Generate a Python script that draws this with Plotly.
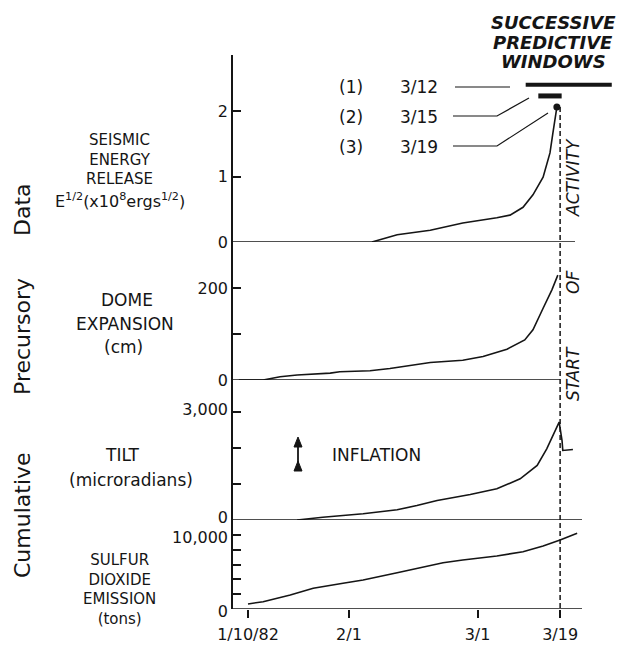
import plotly.graph_objects as go
from datetime import datetime, timedelta

# ---------------- data ----------------
seis_dates = ["1982-02-06", "1982-02-08 00:00", "1982-02-11 12:00", "1982-02-18 17:00",
              "1982-02-25 19:00", "1982-03-05 05:00", "1982-03-08 02:00", "1982-03-10 22:00",
              "1982-03-13 02:00", "1982-03-15 07:00", "1982-03-16 19:00", "1982-03-17 10:00",
              "1982-03-18 02:00", "1982-03-18 07:00"]
seis_vals = [0, 0.04, 0.11, 0.18, 0.29, 0.37, 0.41, 0.53, 0.72, 0.99, 1.36, 1.66, 2.02, 2.06]

dome_dates = ["1982-01-08", "1982-01-13 07:00", "1982-01-17", "1982-01-20 17:00", "1982-01-27 22:00",
              "1982-01-30", "1982-02-05 14:00", "1982-02-09 22:00", "1982-02-18 17:00",
              "1982-02-25 19:00", "1982-03-02 05:00", "1982-03-07 10:00", "1982-03-11 07:00",
              "1982-03-13 02:00", "1982-03-15 07:00", "1982-03-17 05:00", "1982-03-18 12:00"]
dome_vals = [0, 0, 7, 11, 15, 18, 20, 25, 38, 43, 51, 67, 87, 109, 156, 196, 228]

tilt_dates = ["1982-01-20 17:00", "1982-01-26 07:00", "1982-02-04 02:00", "1982-02-11 12:00",
              "1982-02-15 19:00", "1982-02-20 05:00", "1982-02-27 10:00", "1982-03-05 05:00",
              "1982-03-10 07:00", "1982-03-14 00:00", "1982-03-16 02:00", "1982-03-17 22:00",
              "1982-03-18 19:00", "1982-03-19 10:00", "1982-03-19 14:00", "1982-03-21 19:00"]
tilt_vals = [0, 78, 172, 283, 403, 542, 708, 867, 1144, 1514, 1978, 2486, 2717, 2208, 1931, 1958]

so2_dates = ["1982-01-10", "1982-01-13 07:00", "1982-01-19 05:00", "1982-01-24 05:00",
             "1982-01-30 17:00", "1982-02-04 02:00", "1982-02-11 12:00", "1982-02-21 12:00",
             "1982-02-25 19:00", "1982-03-05 05:00", "1982-03-10 22:00", "1982-03-15 07:00",
             "1982-03-19 00:00", "1982-03-22 17:00"]
so2_vals = [680, 990, 1890, 2800, 3470, 3920, 4900, 6260, 6620, 7160, 7740, 8510, 9320, 10230]

# successive predictive windows
win_labels = ["(1)", "(2)", "(3)"]
win_issued = ["3/12", "3/15", "3/19"]
win_start = ["1982-03-11 12:00", "1982-03-14 06:00", "1982-03-18 07:00"]
win_end = ["1982-03-30 06:00", "1982-03-19 08:00", "1982-03-18 07:00"]

x_tickvals = ["1982-01-10", "1982-02-01", "1982-03-01", "1982-03-19"]
x_ticktext = ["1/10/82", "2/1", "3/1", "3/19"]
onset_date = "1982-03-19"

panel_labels = [["SEISMIC", "ENERGY", "RELEASE", "E<sup>1/2</sup>(x10<sup>8</sup>ergs<sup>1/2</sup>)"],
                ["DOME", "EXPANSION", "(cm)"],
                ["TILT", "(microradians)"],
                ["SULFUR", "DIOXIDE", "EMISSION", "(tons)"]]
title_words = ["Cumulative", "Precursory", "Data"]

# ---------------- layout helpers ----------------
# the page body has an 8px margin, so the figure is 8px smaller and shifted
FONT = "DejaVu Sans"
INK = "#151515"
OFF = 8
W, H = 628 - OFF, 645 - OFF
L, R, T, B = 233 - OFF, 0, 55 - OFF, 645 - 609
PW, PH = W - L - R, H - T - B


def X(px):  # page px -> paper
    return (px - OFF - L) / PW


def Y(py):
    return (H - B - (py - OFF)) / PH


px_per_day = 4.59
x_lo = datetime(1982, 1, 10) - timedelta(days=(248 - 233) / px_per_day)
x_hi = x_lo + timedelta(days=PW / px_per_day)

fig = go.Figure()
line_style = dict(color=INK, width=1.6)
fig.add_trace(go.Scatter(x=seis_dates, y=seis_vals, mode="lines", line=line_style, xaxis="x", yaxis="y"))
fig.add_trace(go.Scatter(x=dome_dates, y=dome_vals, mode="lines", line=line_style, xaxis="x", yaxis="y2"))
fig.add_trace(go.Scatter(x=tilt_dates, y=tilt_vals, mode="lines", line=line_style, xaxis="x", yaxis="y3"))
fig.add_trace(go.Scatter(x=so2_dates, y=so2_vals, mode="lines", line=line_style, xaxis="x", yaxis="y4"))

# windows (bars / dot) drawn on the seismic axis
win_levels = [2.40, 2.23, 2.06]
win_widths = [4, 5, 0]
for i in range(3):
    if win_start[i] != win_end[i]:
        fig.add_trace(go.Scatter(x=[win_start[i], win_end[i]], y=[win_levels[i]] * 2, mode="lines",
                                 line=dict(color=INK, width=win_widths[i]), xaxis="x", yaxis="y"))
    else:
        fig.add_trace(go.Scatter(x=[win_start[i]], y=[win_levels[i]], mode="markers",
                                 marker=dict(color=INK, size=7), xaxis="x", yaxis="y"))

tickfont = dict(family=FONT, size=16, color=INK)
tick_style = dict(ticks="inside", ticklen=8, tickwidth=1.5, tickcolor=INK)
yax = dict(showline=True, linecolor=INK, linewidth=1.6, showgrid=False, zeroline=False,
           anchor="x", tickfont=tickfont, **tick_style)


def minor(dt):
    return dict(dtick=dt, showgrid=False, **tick_style)


fig.update_layout(
    width=W, height=H, margin=dict(l=L, r=R, t=T, b=B),
    plot_bgcolor="white", paper_bgcolor="white", showlegend=False,
    font=dict(family=FONT, size=16, color=INK),
    xaxis=dict(type="date", range=[x_lo, x_hi], domain=[0, 1], anchor="y4",
               tickvals=x_tickvals, ticktext=x_ticktext, ticks="outside", ticklen=8, tickwidth=1.5,
               tickcolor=INK, showline=False, showgrid=False, zeroline=False, tickfont=tickfont,
               ticklabelstandoff=3),
    yaxis=dict(domain=[Y(242), 1], range=[0, (242 - 55) / 65.5],
               tickvals=[0, 1, 2], ticktext=["0", "1", "2"], **yax),
    yaxis2=dict(domain=[Y(380), Y(242)], range=[0, (380 - 242) / 0.46],
                tickvals=[0, 200], ticktext=["0", "200"], minor=minor(100), **yax),
    yaxis3=dict(domain=[Y(520), Y(380)], range=[0, (520 - 380) / 0.036],
                tickvals=[0, 3000], ticktext=["0", "3,000"], minor=minor(1000),
                ticklabelshift=-3, **yax),
    yaxis4=dict(domain=[0, Y(520)], range=[0, (609 - 520) / 0.0074],
                tickvals=[0, 10000], ticktext=["0", "10,000"], minor=minor(2000),
                ticklabelshift=2, **yax),
)

shapes = []
# baselines of the four panels
for yref, end_px in [("y", 575), ("y2", 560), ("y3", 582), ("y4", 582)]:
    shapes.append(dict(type="line", xref="paper", yref=yref, x0=0, x1=X(end_px), y0=0, y1=0,
                       line=dict(color=INK, width=1.6)))
# start of activity dashed line
shapes.append(dict(type="line", xref="x", yref="paper", x0=onset_date, x1=onset_date,
                   y0=Y(616), y1=Y(104), line=dict(color=INK, width=1.5, dash="5px,3px")))


def path(pts, close=False):
    p = "M " + " L ".join(f"{X(a)},{Y(b)}" for a, b in pts)
    return p + (" Z" if close else "")


# leader lines
leaders = [[(455, 87), (510, 87)],
           [(453, 116), (497, 116), (529, 98)],
           [(453, 146), (497, 146), (548, 113)]]
for pts in leaders:
    shapes.append(dict(type="path", xref="paper", yref="paper", path=path(pts),
                       line=dict(color=INK, width=1.2)))

# inflation arrow (shaft, head and fletching)
shapes.append(dict(type="path", xref="paper", yref="paper", path=path([(298, 444), (298, 470)]),
                   line=dict(color=INK, width=1.8)))
for tip in (437, 461):
    shapes.append(dict(type="path", xref="paper", yref="paper",
                       path=path([(298, tip), (294, tip + 10), (302, tip + 10)], close=True),
                       fillcolor=INK, line=dict(color=INK, width=1)))
fig.update_layout(shapes=shapes)

ann = []


def txt(s, px, py, size=16, **kw):
    d = dict(text=s, x=X(px), y=Y(py), xref="paper", yref="paper", showarrow=False,
             xanchor="center", yanchor="middle", align="center",
             font=dict(family=FONT, size=size, color=INK))
    d.update(kw)
    return d


# heading
for s, py in zip(["SUCCESSIVE", "PREDICTIVE", "WINDOWS"], [22, 42, 62]):
    ann.append(txt(f"<b><i>{s}</i></b>", 553, py, size=18))
# window labels
for lab, iss, py in zip(win_labels, win_issued, [87, 117, 147]):
    ann.append(txt(lab, 351, py, size=17))
    ann.append(txt(iss, 419, py, size=17))

# panel labels: tightly stacked blocks as one multi-line text, loose ones line by line
ann.append(txt("<br>".join(panel_labels[0][:3]), 120, 159, size=15))
ann.append(txt(panel_labels[0][3], 120, 201, size=16))
for s, (px, py) in zip(panel_labels[1], [(127, 300), (125, 324), (124, 347)]):
    ann.append(txt(s, px, py, size=17))
for s, (px, py) in zip(panel_labels[2], [(122, 455), (131, 480)]):
    ann.append(txt(s, px, py, size=17))
ann.append(txt("<br>".join(panel_labels[3]), 120, 589, size=15))

# y title
for s, py in zip(title_words, [515, 337, 210]):
    ann.append(txt(s, 22, py, size=22, textangle=-90))

# start of activity
for s, py in zip(["START", "OF", "ACTIVITY"], [374, 283, 178]):
    ann.append(txt(f"<i>{s}</i>", 573, py, size=17, textangle=-90))

ann.append(txt("INFLATION", 376, 455, size=17))

fig.update_layout(annotations=ann)
fig.write_html("out.html")
